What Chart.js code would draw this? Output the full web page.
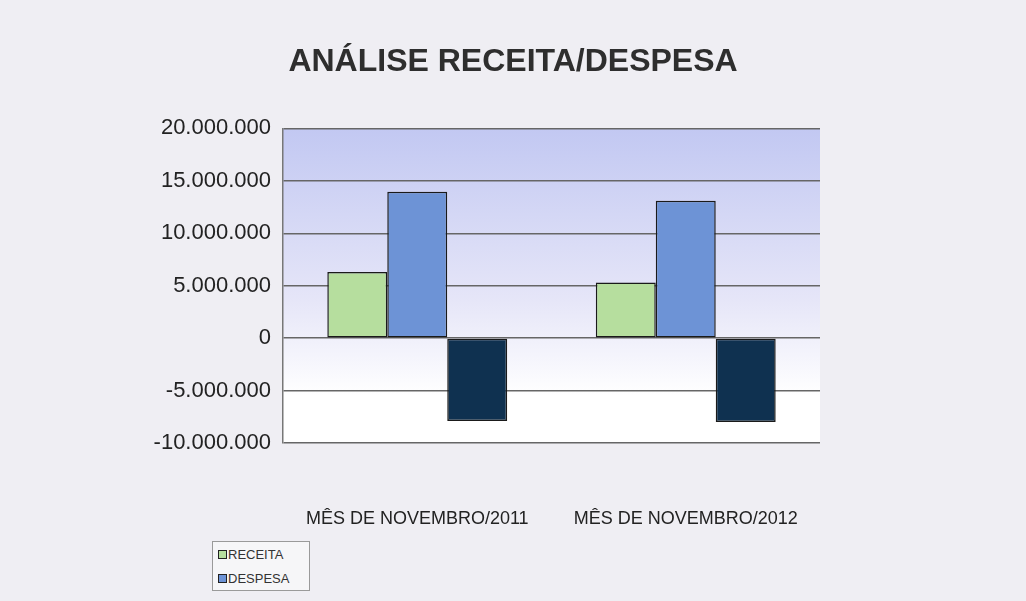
<!DOCTYPE html>
<html>
<head>
<meta charset="utf-8">
<script src="https://cdn.jsdelivr.net/npm/chart.js@4.4.0/dist/chart.umd.min.js"></script>
<style>
  html, body { margin: 0; padding: 0; background: #efeef3; }
  #wrap { position: relative; width: 1026px; height: 601px; }
  #legend {
    position: absolute; left: 212px; top: 541px; width: 98px; height: 50px;
    border: 1px solid #9a9a9a; background: #f6f6f8;
    font: 13px "Liberation Sans", Arial, sans-serif; color: #333;
    padding: 1px 0 0 5px; box-sizing: border-box;
  }
  #legend div { height: 24px; line-height: 24px; white-space: nowrap; }
  #legend span.box {
    display: inline-block; width: 7px; height: 7px; border: 1.5px solid #222;
    vertical-align: middle; margin-right: 1px; margin-top: -3px;
  }
</style>
</head>
<body>
<div id="wrap">
  <canvas id="chart" width="1026" height="601"></canvas>
  <div id="legend"></div>
</div>
<script>
const categories = ["MÊS DE NOVEMBRO/2011", "MÊS DE NOVEMBRO/2012"];
const receita = [6300000, 5300000];
const despesa = [13950000, 13100000];
const saldo = [-7900000, -8000000];
const yTicks = [20000000, 15000000, 10000000, 5000000, 0, -5000000, -10000000];

const colors = {
  receita: "#b6de9e",
  despesa: "#6d93d6",
  saldo: "#0f3150"
};

function fmt(v) {
  const s = Math.abs(v).toString().replace(/\B(?=(\d{3})+(?!\d))/g, ".");
  return (v < 0 ? "-" : "") + s;
}

// fundo em degradê da área do gráfico
const plotBg = {
  id: "plotBg",
  beforeDraw(chart) {
    const { ctx, chartArea: a } = chart;
    const g = ctx.createLinearGradient(0, a.top, 0, a.bottom);
    g.addColorStop(0, "#c2c8f2");
    g.addColorStop(0.55, "#e6e6f8");
    g.addColorStop(0.85, "#ffffff");
    g.addColorStop(1, "#ffffff");
    ctx.save();
    ctx.fillStyle = g;
    ctx.fillRect(a.left, a.top, a.right - a.left, a.bottom - a.top);
    ctx.restore();
  }
};

const FONT = "'Liberation Sans', Arial, sans-serif";

new Chart(document.getElementById("chart"), {
  type: "bar",
  data: {
    labels: categories,
    datasets: [
      { label: "RECEITA", data: receita, backgroundColor: colors.receita },
      { label: "DESPESA", data: despesa, backgroundColor: colors.despesa },
      { label: "SALDO", data: saldo, backgroundColor: colors.saldo }
    ].map(d => Object.assign(d, {
      borderColor: "#1a1a1a",
      borderWidth: 1.5,
      borderSkipped: false,
      categoryPercentage: 0.67,
      barPercentage: 1.0
    }))
  },
  options: {
    responsive: false,
    animation: false,
    layout: { padding: { top: 43, right: 0, left: 0, bottom: 0 } },
    plugins: {
      legend: { display: false },
      tooltip: { enabled: false },
      title: {
        display: true,
        text: "ANÁLISE RECEITA/DESPESA",
        color: "#2e2e2e",
        font: { family: FONT, size: 32, weight: "bold" },
        padding: { top: 0, bottom: 47 }
      }
    },
    scales: {
      y: {
        min: -10000000,
        max: 20000000,
        afterBuildTicks: axis => { axis.ticks = yTicks.map(v => ({ value: v })); },
        afterFit: axis => { axis.width = 283; },
        border: { display: true, color: "#777", width: 1.5 },
        grid: { color: "#666", lineWidth: 1.4, drawTicks: false },
        ticks: {
          padding: 12,
          color: "#222",
          font: { family: FONT, size: 22 },
          callback: v => fmt(v)
        }
      },
      // eixo vazio à direita só para reservar espaço
      yRight: {
        position: "right",
        min: 0,
        max: 1,
        afterFit: axis => { axis.width = 206; },
        border: { display: false },
        grid: { display: false },
        ticks: { display: false }
      },
      x: {
        afterFit: axis => { axis.height = 158; },
        border: { display: false },
        grid: { display: false },
        ticks: {
          padding: 57,
          color: "#222",
          font: { family: FONT, size: 18 }
        }
      }
    }
  },
  plugins: [plotBg]
});

// legenda (só receita e despesa, como no original)
const legendEl = document.getElementById("legend");
[["RECEITA", colors.receita], ["DESPESA", colors.despesa]].forEach(([name, c]) => {
  const row = document.createElement("div");
  row.innerHTML = `<span class="box" style="background:${c}"></span>${name}`;
  legendEl.appendChild(row);
});
</script>
</body>
</html>
